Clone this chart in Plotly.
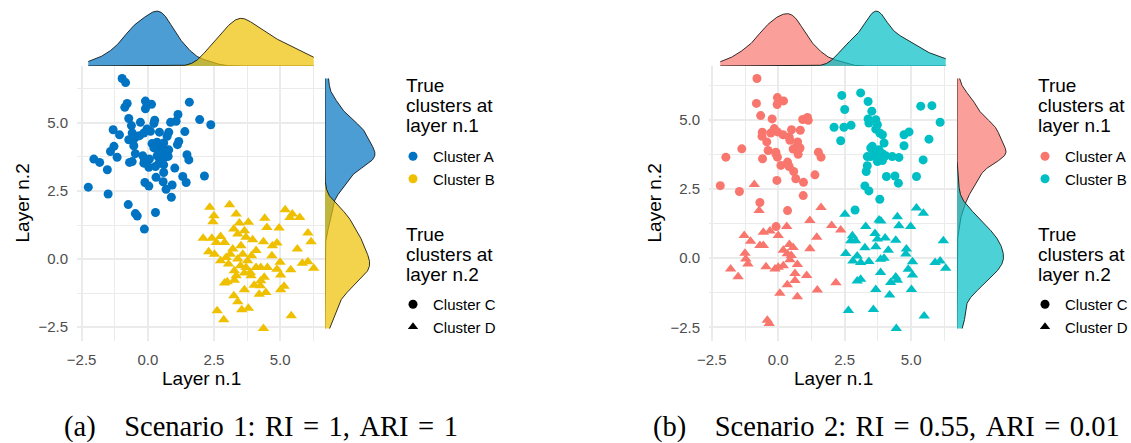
import numpy as np
import plotly.graph_objects as go

W, H = 1131, 443

# ---------------- Scenario 1 ----------------
# Cluster A at layer n.1 / Cluster C at layer n.2
s1_AC = [(-0.97, 6.63), (-0.84, 6.48), (-0.78, 5.71), (-0.87, 5.57), (-0.09, 5.80), (-0.09, 5.52), (0.14, 5.68),
         (1.57, 5.76), (1.96, 5.12), (2.38, 4.93), (-0.72, 5.16), (-0.62, 4.90), (-0.28, 5.02), (0.26, 5.10),
         (0.23, 4.98), (0.86, 5.02), (1.07, 5.06), (1.14, 5.31), (-1.31, 4.75), (-1.07, 4.56), (-0.03, 4.78),
         (-0.15, 4.63), (-0.31, 4.53), (-0.72, 4.38), (-0.53, 4.41), (-0.40, 4.51), (0.44, 4.66), (0.79, 4.66),
         (0.73, 4.51), (1.40, 4.68), (1.17, 4.32), (1.12, 4.20), (0.16, 4.24), (-0.53, 4.16), (-1.28, 4.14),
         (-1.41, 3.95), (-1.16, 3.74), (-2.04, 3.67), (-1.82, 3.55), (-1.53, 3.28), (-0.47, 3.87), (-0.59, 3.58),
         (-0.69, 3.55), (-0.19, 3.79), (-0.13, 3.64), (0.06, 3.67), (-0.15, 3.52), (0.04, 3.37), (1.48, 3.83),
         (1.55, 3.64), (1.02, 3.34), (2.14, 3.05), (1.32, 3.03), (1.45, 2.81), (0.31, 3.00), (0.60, 3.18),
         (0.58, 2.84), (-0.11, 2.81), (0.04, 2.68), (0.92, 2.72), (0.69, 2.56), (0.89, 2.27), (-2.25, 2.64),
         (-1.50, 2.39), (-0.74, 2.00), (-0.47, 1.67), (-0.40, 1.58), (0.29, 1.71), (-0.13, 1.10), (0.35, 4.29),
         (0.48, 4.16), (0.60, 4.26), (0.39, 4.01), (0.57, 4.04), (0.69, 3.92), (0.48, 3.87), (0.64, 3.74),
         (0.35, 3.79), (0.54, 3.65), (0.77, 3.77), (0.42, 3.52), (0.60, 3.46), (0.29, 3.40), (0.23, 4.08),
         (0.79, 4.01), (-0.59, 4.63), (0.10, 4.69)]
# Cluster B at layer n.1 / Cluster D at layer n.2
s1_BD = [(2.34, 1.90), (2.50, 1.59), (2.46, 1.37), (3.09, 1.99), (3.34, 1.65), (2.09, 0.76), (2.42, 0.76),
         (2.75, 0.83), (2.90, 0.61), (2.59, 0.61), (2.30, 0.27), (2.52, 0.18), (3.25, 1.10), (3.46, 1.32),
         (3.80, 1.35), (3.65, 1.04), (3.40, 0.92), (3.71, 0.80), (3.96, 0.71), (3.21, 0.37), (3.52, 0.49),
         (4.42, 1.50), (4.50, 1.16), (4.96, 1.14), (5.19, 1.81), (5.37, 1.53), (5.46, 1.65), (5.74, 1.53),
         (4.37, 0.64), (4.71, 0.49), (4.88, 0.59), (4.69, 0.12), (5.65, 0.37), (6.05, 0.96), (6.17, 0.64),
         (5.84, -0.15), (6.05, -0.10), (6.27, -0.34), (2.75, -0.06), (2.96, 0.06), (3.05, -0.18), (3.40, 0.00),
         (3.59, 0.18), (3.77, -0.06), (3.92, 0.12), (4.09, 0.31), (3.50, -0.25), (3.71, -0.31), (3.87, -0.49),
         (3.34, -0.61), (3.00, -0.83), (2.90, -0.88), (3.27, -0.78), (4.02, -0.96), (4.27, -0.80), (4.40, -0.67),
         (4.27, -0.31), (4.52, -0.31), (4.88, -0.37), (5.02, -0.59), (5.40, -0.39), (5.00, -0.12), (4.25, -0.98),
         (4.46, -1.23), (4.21, -1.29), (5.02, -1.13), (5.15, -1.00), (3.65, -1.13), (3.25, -1.35), (3.40, -1.57),
         (3.55, -1.86), (3.80, -1.81), (2.62, -1.90), (2.87, -2.23), (5.42, -2.08), (4.37, -2.55), (3.65, -0.51),
         (3.90, -0.61), (4.09, -0.31), (3.27, -0.43), (3.12, 0.18)]

# ---------------- Scenario 2 ----------------
s2_AC = [(-0.80, 6.49), (-0.82, 5.59), (-0.66, 5.15), (-0.03, 5.80), (-0.04, 5.55), (0.20, 5.68), (-0.23, 5.03),
         (-0.61, 4.40), (-0.43, 4.20), (-0.38, 3.89), (-0.59, 3.59), (-0.28, 4.52), (-0.15, 4.68), (-0.03, 4.56),
         (-0.09, 3.83), (-0.03, 3.65), (0.10, 3.35), (0.41, 4.38), (0.44, 4.26), (0.50, 4.64), (0.73, 4.20),
         (0.67, 4.01), (0.79, 3.95), (0.75, 3.75), (0.83, 4.62), (0.35, 3.47), (0.41, 3.31), (0.58, 3.13),
         (0.66, 2.87), (0.92, 5.01), (1.10, 5.08), (1.13, 4.98), (1.51, 3.83), (1.61, 3.65), (1.38, 3.01),
         (0.95, 2.74), (0.94, 2.26), (-0.05, 2.81), (-1.37, 3.95), (-1.97, 3.65), (-2.18, 2.62), (-1.46, 2.41),
         (-0.69, 2.01), (0.35, 1.72), (-0.08, 1.14), (0.56, 3.94), (-0.09, 3.77), (-0.60, 4.55), (0.82, 3.98),
         (0.18, 4.46)]
s2_AD = [(-0.72, 1.72), (1.61, 1.83), (1.19, 1.36), (2.01, 1.18), (2.35, 1.02), (0.32, 1.14), (0.00, 0.82),
         (-0.56, 0.94), (-0.31, 0.98), (-1.28, 0.82), (-1.04, 0.61), (-0.69, 0.46), (-0.56, 0.46), (1.45, 0.76),
         (1.19, 0.34), (0.42, 0.49), (0.56, 0.39), (0.19, 0.29), (-1.25, 0.18), (-1.22, -0.03), (-1.14, -0.21),
         (-1.79, -0.39), (-1.51, -0.67), (-0.46, -0.31), (-0.12, -0.39), (0.00, -0.33), (0.19, -0.27), (0.44, -0.06),
         (0.34, 0.16), (0.49, 0.10), (0.72, -0.23), (0.63, -0.55), (0.63, -0.81), (0.34, -0.96), (1.07, -0.63),
         (0.06, -1.27), (0.72, -1.39), (1.47, -1.15), (2.17, -0.89), (-0.41, -2.24), (-0.34, -2.36), (-0.90, 2.66)]
s2_BC = [(2.39, 5.88), (3.10, 5.97), (3.38, 5.66), (2.50, 5.37), (3.52, 5.31), (5.36, 5.49), (5.78, 5.51),
         (6.09, 4.91), (2.10, 4.73), (2.47, 4.73), (2.74, 4.80), (2.35, 4.24), (3.38, 5.03), (3.41, 4.88),
         (3.67, 5.00), (3.73, 4.82), (3.67, 4.66), (3.82, 4.52), (3.92, 4.46), (4.73, 4.46), (4.92, 4.56),
         (4.73, 4.06), (5.67, 4.30), (3.54, 4.04), (3.48, 3.98), (3.98, 4.16), (3.79, 3.92), (3.67, 3.82),
         (3.35, 3.67), (3.48, 3.67), (3.92, 3.77), (4.04, 3.70), (3.92, 3.53), (3.79, 3.61), (4.29, 3.67),
         (4.54, 3.64), (3.73, 3.49), (5.45, 3.55), (3.35, 3.34), (3.31, 3.13), (4.07, 2.95), (4.39, 2.97),
         (4.52, 2.71), (5.20, 2.95), (3.26, 2.61), (3.41, 2.43), (3.82, 2.13), (2.89, 1.74)]
s2_BD = [(2.51, 1.59), (5.20, 1.81), (5.46, 1.62), (3.79, 1.38), (3.86, 1.34), (4.48, 1.50), (4.54, 1.17),
         (4.98, 1.14), (3.29, 1.14), (3.64, 0.89), (3.73, 0.69), (4.02, 0.73), (2.79, 0.81), (2.73, 0.63),
         (2.91, 0.63), (4.42, 0.65), (6.21, 0.63), (3.26, 0.38), (3.67, 0.41), (4.14, 0.29), (4.82, 0.33),
         (4.80, 0.15), (2.54, 0.17), (2.97, 0.08), (2.81, -0.10), (3.10, -0.16), (3.41, -0.12), (3.85, -0.04),
         (3.98, 0.00), (5.05, -0.13), (5.90, -0.16), (6.09, -0.10), (6.30, -0.36), (4.89, -0.40), (5.05, -0.61),
         (3.85, -0.52), (4.42, -0.68), (4.48, -0.80), (4.23, -0.88), (2.97, -0.82), (3.10, -0.76), (3.67, -1.13),
         (4.19, -1.33), (5.01, -1.13), (2.64, -1.89), (3.58, -1.85), (5.49, -2.09), (4.44, -2.54)]

layer1_names = ["Cluster A", "Cluster B"]
layer2_names = ["Cluster C", "Cluster D"]
palette1 = ["#0073C2", "#EFC000"]
palette2 = ["#F8766D", "#00BFC4"]
legend_titles = [["True", "clusters at", "layer n.1"], ["True", "clusters at", "layer n.2"]]
SP = "\u2004"
captions = [f"(a)\u2003Scenario{SP}1:{SP}RI{SP}={SP}1,{SP}ARI{SP}={SP}1",
            f"(b)\u2003Scenario{SP}2:{SP}RI{SP}={SP}0.55,{SP}ARI{SP}={SP}0.01"]

SANS = "Liberation Sans"
SERIF = "Liberation Serif"


def fx(p):
    return p / W


def fy(p):
    return 1 - p / H


def rgba(hex_color, a):
    h = hex_color.lstrip("#")
    r, g, b = (int(h[i:i + 2], 16) for i in (0, 2, 4))
    return f"rgba({r},{g},{b},{a})"


def bw_nrd0(v):
    v = np.asarray(v, float)
    sd = v.std(ddof=1)
    q75, q25 = np.percentile(v, [75, 25])
    lo = min(sd, (q75 - q25) / 1.34)
    return 0.9 * lo * len(v) ** (-0.2)


def kde(v, grid):
    v = np.asarray(v, float)
    bw = bw_nrd0(v)
    z = (grid[:, None] - v[None, :]) / bw
    return np.exp(-0.5 * z ** 2).sum(axis=1) / (len(v) * bw * np.sqrt(2 * np.pi))


def expand(vals, mult=0.05):
    lo, hi = min(vals), max(vals)
    d = (hi - lo) * mult
    return [lo - d, hi + d]


fig = go.Figure()
layout = {}

panels = [
    dict(groups=[(s1_AC, 0, 0), (s1_BD, 1, 1)], pal=palette1, left=77, right=325, mright=376,
         legx=393, titlex=404, capx=261, n=0),
    dict(groups=[(s2_AC, 0, 0), (s2_AD, 0, 1), (s2_BC, 1, 0), (s2_BD, 1, 1)], pal=palette2,
         left=709, right=957, mright=1007, legx=1025, titlex=1036, capx=886, n=1),
]
TOP, BOTTOM, MTOP = 66, 341, 10
symbols = ["circle", "triangle-up"]
sizes = [9, 10]

for p in panels:
    k = p["n"]
    ax_main, ax_top, ax_right = 3 * k + 1, 3 * k + 2, 3 * k + 3
    all_x = [pt[0] for g in p["groups"] for pt in g[0]]
    all_y = [pt[1] for g in p["groups"] for pt in g[0]]
    xr, yr = expand(all_x), expand(all_y)

    # scatter points: colour = layer n.1 cluster, shape = layer n.2 cluster
    for pts, c1, c2 in p["groups"]:
        fig.add_trace(go.Scatter(
            x=[q[0] for q in pts], y=[q[1] for q in pts], mode="markers",
            marker=dict(color=p["pal"][c1], symbol=symbols[c2], size=sizes[c2], line=dict(width=0)),
            xaxis=f"x{ax_main}", yaxis=f"y{ax_main}", showlegend=False, hoverinfo="skip"))

    # marginal densities: x grouped by layer n.1, y grouped by layer n.2
    gx = np.linspace(min(all_x), max(all_x), 512)
    gy = np.linspace(min(all_y), max(all_y), 512)
    dens_x, dens_y = [], []
    for c in (0, 1):
        xs = [q[0] for pts, c1, c2 in p["groups"] if c1 == c for q in pts]
        ys = [q[1] for pts, c1, c2 in p["groups"] if c2 == c for q in pts]
        dens_x.append(kde(xs, gx))
        dens_y.append(kde(ys, gy))
    for c in (0, 1):
        fig.add_trace(go.Scatter(
            x=gx, y=dens_x[c], mode="lines", fill="tozeroy", fillcolor=rgba(p["pal"][c], 0.7),
            line=dict(color="black", width=0.8), xaxis=f"x{ax_top}", yaxis=f"y{ax_top}",
            showlegend=False, hoverinfo="skip"))
    for c in (0, 1):
        fig.add_trace(go.Scatter(
            x=dens_y[c], y=gy, mode="lines", fill="tozerox", fillcolor=rgba(p["pal"][c], 0.7),
            line=dict(color="black", width=0.8), xaxis=f"x{ax_right}", yaxis=f"y{ax_right}",
            showlegend=False, hoverinfo="skip"))

    tickfont = dict(family=SANS, size=15, color="#4D4D4D")
    grid = dict(showgrid=True, gridcolor="#EBEBEB", gridwidth=1.5, zeroline=False, showline=False,
                ticks="", tick0=0, dtick=2.5, tickformat=".1f", tickfont=tickfont, automargin=False,
                minor=dict(tick0=0, dtick=1.25, showgrid=True, gridcolor="#EBEBEB", gridwidth=0.8))
    xdom = [fx(p["left"]), fx(p["right"])]
    ydom = [fy(BOTTOM), fy(TOP)]
    sfx = lambda i: "" if i == 1 else str(i)
    layout[f"xaxis{sfx(ax_main)}"] = dict(domain=xdom, range=xr, anchor=f"y{ax_main}",
                                          ticklabelstandoff=8, **grid)
    layout[f"yaxis{sfx(ax_main)}"] = dict(domain=ydom, range=yr, anchor=f"x{ax_main}",
                                          ticklabelstandoff=8, **grid)
    top_max = max(d.max() for d in dens_x)
    layout[f"xaxis{ax_top}"] = dict(domain=xdom, range=xr, anchor=f"y{ax_top}", visible=False)
    layout[f"yaxis{ax_top}"] = dict(domain=[fy(TOP), fy(MTOP)], range=[0, top_max * 1.02],
                                    anchor=f"x{ax_top}", visible=False)
    right_max = max(d.max() for d in dens_y)
    layout[f"xaxis{ax_right}"] = dict(domain=[fx(p["right"]), fx(p["mright"])], range=[0, right_max * 1.02],
                                      anchor=f"y{ax_right}", visible=False)
    layout[f"yaxis{ax_right}"] = dict(domain=ydom, range=yr, anchor=f"x{ax_right}", visible=False)

    # legends (titles are drawn as separate text lines)
    leg1 = "legend" if k == 0 else "legend3"
    leg2 = "legend2" if k == 0 else "legend4"
    for c in (0, 1):
        fig.add_trace(go.Scatter(x=[None], y=[None], mode="markers", name=layer1_names[c],
                                 marker=dict(color=p["pal"][c], symbol="circle", size=9),
                                 xaxis=f"x{ax_main}", yaxis=f"y{ax_main}", legend=leg1, showlegend=True))
    for c in (0, 1):
        fig.add_trace(go.Scatter(x=[None], y=[None], mode="markers", name=layer2_names[c],
                                 marker=dict(color="black", symbol=symbols[c], size=9),
                                 xaxis=f"x{ax_main}", yaxis=f"y{ax_main}", legend=leg2, showlegend=True))
    for name, ytop, title_y, lines in ((leg1, 140, 85, legend_titles[0]),
                                       (leg2, 288, 234, legend_titles[1])):
        layout[name] = dict(x=fx(p["legx"]), y=fy(ytop), xanchor="left", yanchor="top",
                            bgcolor="rgba(0,0,0,0)", borderwidth=0,
                            font=dict(family=SANS, size=15, color="black"))
        for i, line in enumerate(lines):
            fig.add_annotation(text=line, x=fx(p["titlex"]), y=fy(title_y + 20 * i), xref="paper",
                               yref="paper", showarrow=False, xanchor="left", yanchor="middle",
                               font=dict(family=SANS, size=19, color="black"))

    # axis titles and caption
    cx = (p["left"] + p["right"]) / 2
    fig.add_annotation(text="Layer n.1", x=fx(cx), y=fy(378), xref="paper", yref="paper",
                       showarrow=False, xanchor="center", yanchor="middle",
                       font=dict(family=SANS, size=19, color="black"))
    fig.add_annotation(text="Layer n.2", x=fx(p["left"] - 55), y=fy((TOP + BOTTOM) / 2),
                       xref="paper", yref="paper", showarrow=False, textangle=-90,
                       xanchor="center", yanchor="middle", font=dict(family=SANS, size=19, color="black"))
    fig.add_annotation(text=captions[k], x=fx(p["capx"]), y=fy(427), xref="paper",
                       yref="paper", showarrow=False, xanchor="center", yanchor="middle",
                       font=dict(family=SERIF, size=28.5, color="black"))

fig.update_layout(width=W, height=H, autosize=False,
                  margin=dict(l=0, r=0, t=0, b=0, autoexpand=False),
                  paper_bgcolor="white", plot_bgcolor="white", **layout)
fig.write_html("out.html")
